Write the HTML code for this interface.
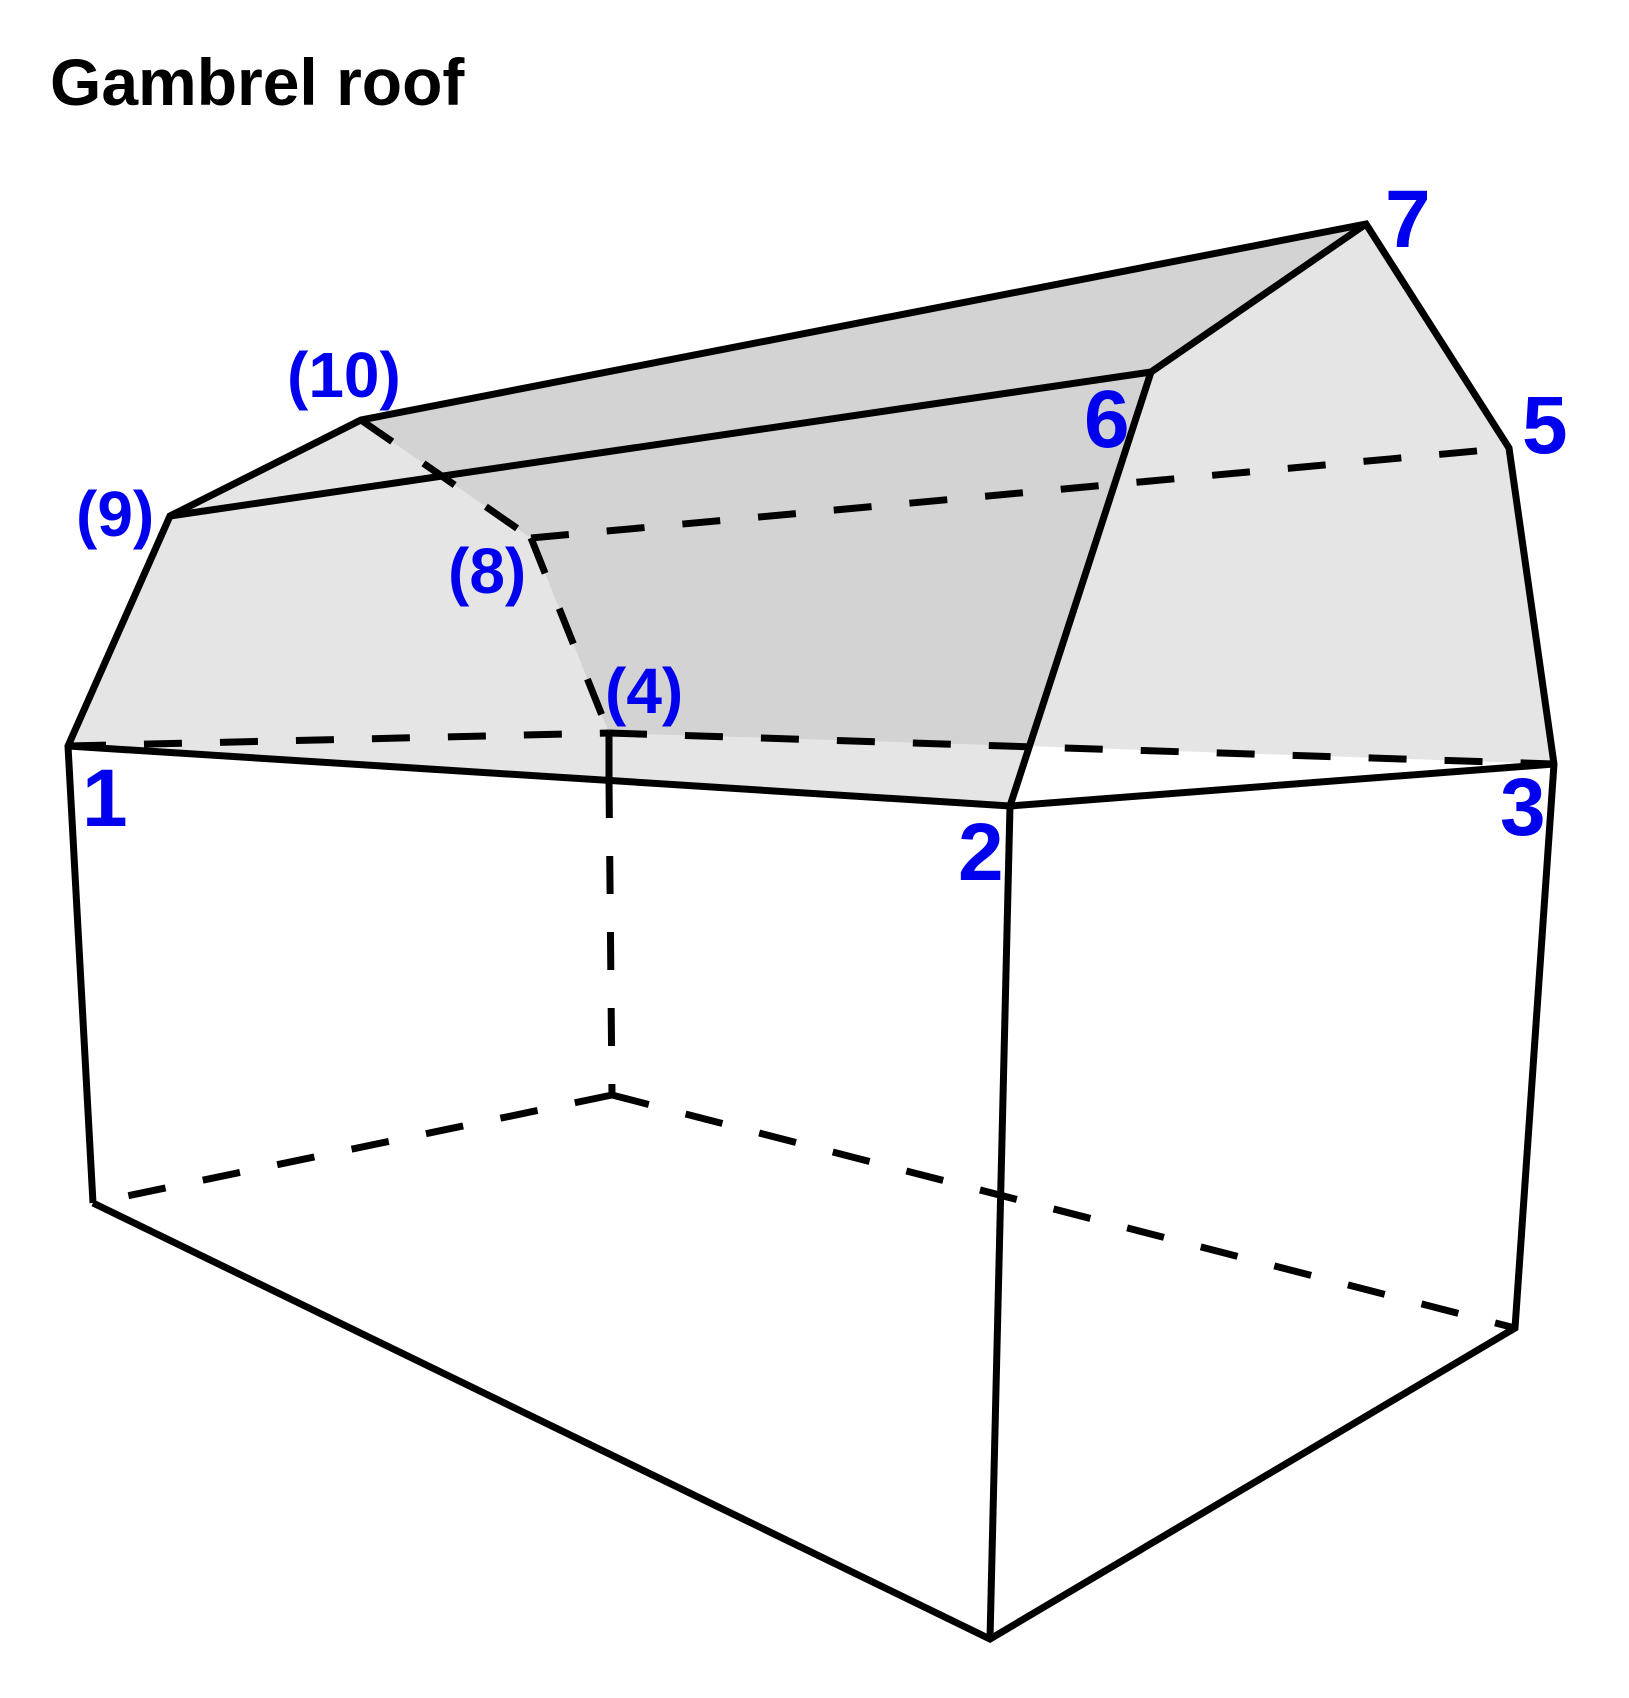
<!DOCTYPE html>
<html><head><style>
html,body{margin:0;padding:0;background:#fff;}
svg{display:block;}
text{font-family:"Liberation Sans",sans-serif;font-weight:bold;}
</style></head><body>
<svg width="1629" height="1698" viewBox="0 0 1629 1698" xmlns="http://www.w3.org/2000/svg">
<text x="50" y="105" font-size="66" fill="#000">Gambrel roof</text>
<polygon points="68,746 170,516 361,420 1366,224 1509,448 1554,764 1027,746 1010,806" fill="#e5e5e5"/>
<polygon points="361,420 1366,224 1151,372 1027,746 609,733 531,538" fill="#d3d3d3"/>
<g stroke="#000" stroke-width="7" fill="none" stroke-linejoin="miter">
<g stroke-dasharray="38,38">
<line x1="68" y1="746" x2="609" y2="733"/>
<line x1="609" y1="733" x2="1554" y2="764"/>
<line x1="609" y1="780" x2="612" y2="1095"/>
<line x1="612" y1="1095" x2="93" y2="1203"/>
<line x1="612" y1="1095" x2="1515" y2="1328"/>
<line x1="361" y1="420" x2="531" y2="538"/>
<line x1="531" y1="538" x2="609" y2="733"/>
<line x1="531" y1="538" x2="1509" y2="448"/>
</g>
<line x1="609" y1="733" x2="609" y2="780"/>
<polyline points="93,1203 68,746 170,516 361,420 1366,224 1509,448 1554,764 1515,1328 990,1639 93,1203"/>
<polyline points="68,746 1010,806 1554,764"/>
<line x1="1010" y1="806" x2="990" y2="1639"/>
<polyline points="170,516 1151,372 1366,224"/>
<line x1="1151" y1="372" x2="1010" y2="806"/>
</g>
<g fill="#0000ee">
<text x="82" y="826" font-size="82">1</text>
<text x="958" y="880" font-size="82">2</text>
<text x="1500" y="835" font-size="82">3</text>
<text x="1522" y="453" font-size="82">5</text>
<text x="1084" y="447" font-size="82">6</text>
<text x="1385" y="247" font-size="82">7</text>
<text x="287" y="397" font-size="64">(10)</text>
<text x="76" y="536" font-size="64">(9)</text>
<text x="448" y="593" font-size="64">(8)</text>
<text x="605" y="713" font-size="64">(4)</text>
</g>
</svg>
</body></html>
